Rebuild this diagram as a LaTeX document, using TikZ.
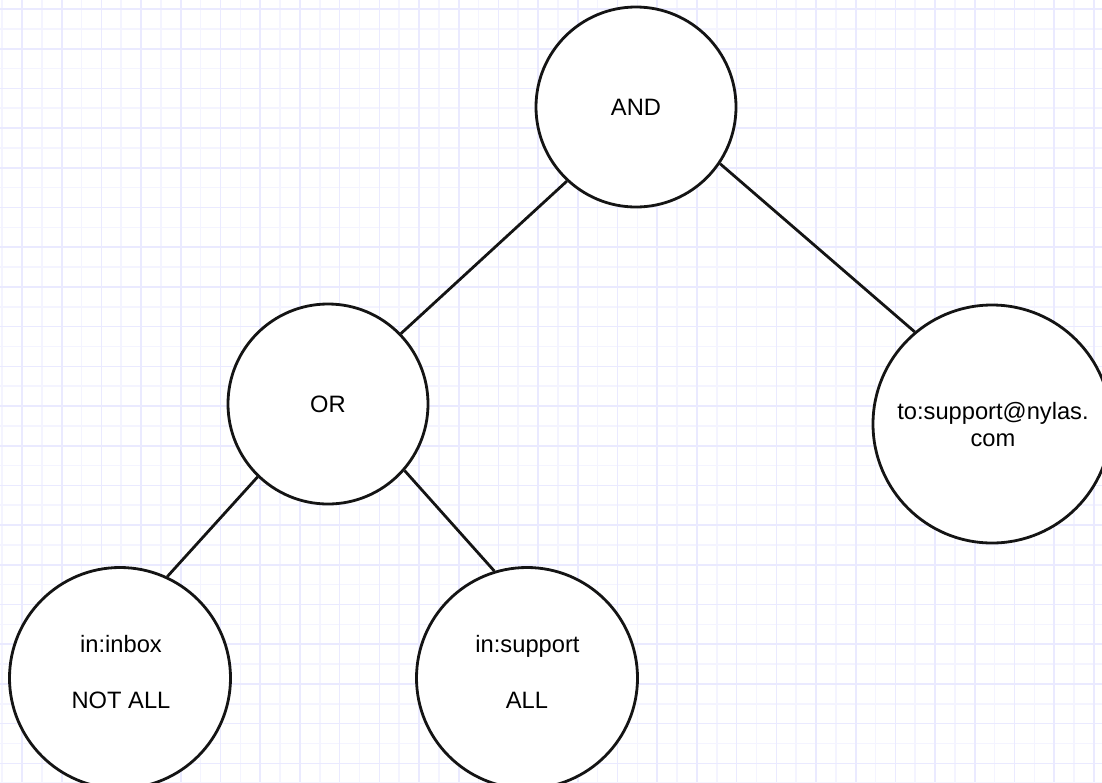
\documentclass[tikz,border=0pt]{standalone}
\usepackage{fontspec}
\setmainfont{Liberation Sans}
\definecolor{gridminor}{RGB}{244,244,255}
\definecolor{gridmajor}{RGB}{234,234,255}
\definecolor{ink}{RGB}{20,20,20}
\begin{document}
\begin{tikzpicture}[x=1pt,y=-1pt,
  bubble/.style={circle,draw=ink,line width=2.8pt,fill=white,inner sep=0pt},
  edge/.style={draw=ink,line width=2.8pt},
  txt/.style={anchor=base,inner sep=0pt,font=\fontsize{23.7}{27.5}\selectfont}]
  \useasboundingbox (0,0) rectangle (1102,782);
  \clip (0,0) rectangle (1102,782);
  \fill[white] (0,0) rectangle (1102,782);
  % graph-paper background
  \foreach \k in {-1,...,54}
    \draw[gridminor,line width=1.6pt] ({22+19.85*\k},0) -- ({22+19.85*\k},782);
  \foreach \k in {0,...,39}
    \draw[gridminor,line width=1.6pt] (0,{9+19.85*\k}) -- (1102,{9+19.85*\k});
  \foreach \k in {0,2,...,54}
    \draw[gridmajor,line width=1.6pt] ({22+19.85*\k},0) -- ({22+19.85*\k},782);
  \foreach \k in {0,2,...,38}
    \draw[gridmajor,line width=1.6pt] (0,{9+19.85*\k}) -- (1102,{9+19.85*\k});

  % tree nodes
  \node[bubble,minimum size=200pt] (and) at (636,107) {};
  \node[bubble,minimum size=200pt] (or) at (328,404) {};
  \node[bubble,minimum size=238pt] (to) at (992,424) {};
  \node[bubble,minimum size=221pt] (inbox) at (120,678) {};
  \node[bubble,minimum size=221pt] (support) at (527,678) {};

  % connectors
  \draw[edge] (and.227) -- (or.44);
  \draw[edge] (and.326) -- (to.130);
  \draw[edge] (or.226) -- (inbox.65);
  \draw[edge] (or.319) -- (support.107);

  % labels
  \node[txt] (andlbl) at (636,115) {AND};
  \node[txt] (orlbl) at (328,412) {OR};
  \node[txt] (tolblA) at (993,419) {to:support@nylas.};
  \node[txt] (tolblB) at (993,446) {com};
  \node[txt] (inboxlblA) at (121,652.7) {in:inbox};
  \node[txt] (inboxlblB) at (121,708) {NOT ALL};
  \node[txt] (supportlblA) at (527.5,652.7) {in:support};
  \node[txt] (supportlblB) at (527,708) {ALL};
\end{tikzpicture}
\end{document}
